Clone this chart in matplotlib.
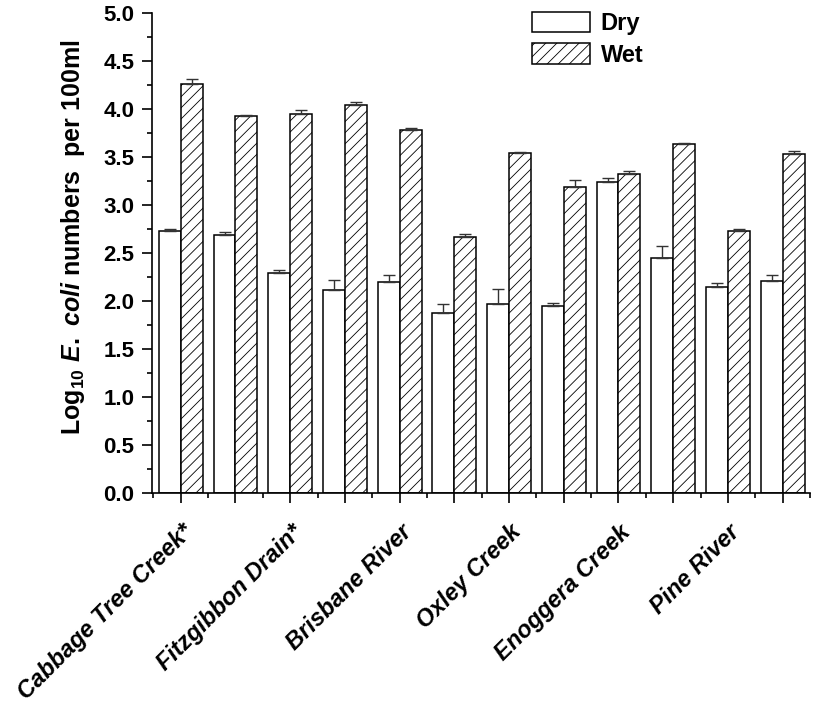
import matplotlib
matplotlib.use('Agg')
import matplotlib.pyplot as plt
import matplotlib.transforms as mtransforms
import numpy as np
from matplotlib.ticker import FixedLocator, MultipleLocator

# data
sites = ['Cabbage Tree Creek*', 'Fitzgibbon Drain*', 'Brisbane River',
         'Oxley Creek', 'Enoggera Creek', 'Pine River']
dry = [2.73, 2.69, 2.30, 2.12, 2.20, 1.88, 1.97, 1.95, 3.24, 2.45, 2.15, 2.21]
dry_err = [0.025, 0.03, 0.025, 0.10, 0.076, 0.087, 0.156, 0.028, 0.041, 0.129, 0.045, 0.069]
wet = [4.26, 3.93, 3.95, 4.04, 3.78, 2.67, 3.545, 3.19, 3.33, 3.64, 2.73, 3.53]
wet_err = [0.06, 0.01, 0.045, 0.04, 0.024, 0.028, 0.007, 0.073, 0.024, 0.014, 0.024, 0.031]

plt.rcParams['font.family'] = ['Liberation Sans', 'DejaVu Sans']
plt.rcParams['font.weight'] = 'bold'
plt.rcParams['mathtext.fontset'] = 'custom'
plt.rcParams['mathtext.rm'] = 'Liberation Sans:bold'
plt.rcParams['mathtext.it'] = 'Liberation Sans:italic:bold'
plt.rcParams['mathtext.bf'] = 'Liberation Sans:bold'
plt.rcParams['hatch.color'] = 'black'
plt.rcParams['hatch.linewidth'] = 0.6
plt.rcParams['ytick.labelsize'] = 16
plt.rcParams['xtick.labelsize'] = 17

fig = plt.figure(figsize=(8.13, 7.08), dpi=100)
ax = fig.add_axes([152.3 / 813, 1 - 493.3 / 708, (810 - 152.3) / 813, 480 / 708])

x = np.arange(len(dry))
w = 0.4
ekw = dict(elinewidth=1, capthick=1, ecolor='#333333')
b1 = ax.bar(x - w / 2, dry, w, color='white', edgecolor='black', linewidth=1.1,
            yerr=[np.zeros(len(dry)), dry_err], capsize=4, error_kw=ekw, label='Dry')
b2 = ax.bar(x + w / 2, wet, w, color='white', edgecolor='black', linewidth=1.1,
            hatch='///', yerr=[np.zeros(len(wet)), wet_err], capsize=4, error_kw=ekw,
            label='Wet')

ax.set_xlim(-0.52, 11.5)
ax.set_ylim(0, 5.0)
ax.spines['top'].set_visible(False)
ax.spines['right'].set_visible(False)
ax.spines['left'].set_linewidth(1.2)
ax.spines['bottom'].set_linewidth(1.2)

ax.set_yticks(np.arange(0, 5.01, 0.5))
ax.set_yticklabels([f'{v:.1f}' for v in np.arange(0, 5.01, 0.5)])
ax.yaxis.set_minor_locator(MultipleLocator(0.25))

ax.set_xticks(x)
labels = []
for i in range(len(x)):
    labels.append(sites[i // 2] if i % 2 == 0 else '')
ax.set_xticklabels(labels, rotation=45, ha='right', va='top', rotation_mode='anchor',
                   fontweight='bold', fontstyle='italic')
ax.xaxis.set_minor_locator(FixedLocator(np.arange(-0.5, 11.6, 1.0)))

ax.tick_params(which='major', direction='out', length=7, width=1.2, pad=6)
ax.tick_params(which='minor', direction='out', length=3.6, width=1.2)
ax.tick_params(axis='x', which='major', pad=12.5)

# nudge the rotated site names a little
shift = mtransforms.ScaledTranslation(0.5 / 100, 0, fig.dpi_scale_trans)
for t in ax.get_xticklabels():
    t.set_transform(t.get_transform() + shift)

ax.set_ylabel(r'$\mathrm{Log}_{10}\ \mathit{E.\ coli}$ numbers  per 100ml', fontsize=18,
              fontweight='bold')
ax.yaxis.set_label_coords(-0.099, 0.534)

fig.legend(handles=[b1, b2], labels=['Dry', 'Wet'], loc='upper left',
           bbox_to_anchor=(532 / 813, 1 - 11.7 / 708), bbox_transform=fig.transFigure,
           frameon=False, handlelength=2.45, handleheight=0.95,
           labelspacing=0.35, handletextpad=0.45, borderpad=0, borderaxespad=0,
           prop={'weight': 'bold', 'size': 17})

fig.savefig('out.png', dpi=100)
